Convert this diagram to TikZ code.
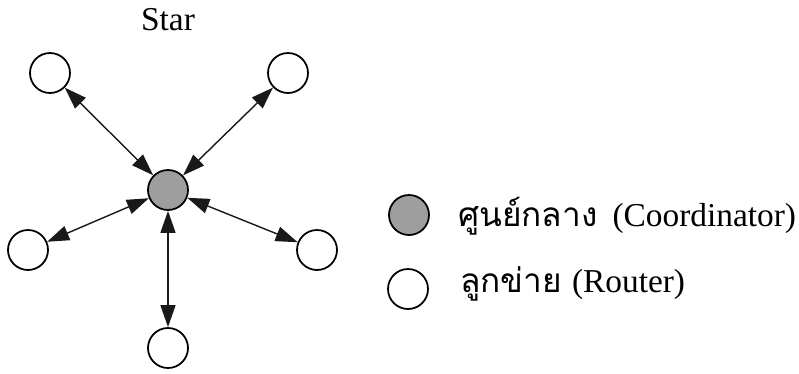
\documentclass[tikz,border=0pt]{standalone}
\usepackage{fontspec}
\setmainfont{Liberation Serif}
\newfontfamily\thaifont[Script=Thai]{Loma}
\usetikzlibrary{arrows.meta}

\begin{document}
\begin{tikzpicture}[
    x=0.02cm, y=-0.02cm,
    router/.style={circle, draw=black, line width=1pt, fill=white, minimum size=0.8cm, inner sep=0pt},
    coord/.style={router, fill=black!38},
    >={Triangle[length=0.44cm, width=0.3cm]},
    link/.style={<->, line width=0.8pt, draw=black!90},
    font=\fontsize{19}{23}\selectfont
]
    \useasboundingbox (0,0) rectangle (799,373);

    % title
    \node[anchor=base] (title) at (168,30) {Star};

    % star nodes (centre + 5 routers)
    \node[coord]  (ctr) at (168,190) {};  % centre
    \node[router] (tl)  at (50,73)   {};  % top left
    \node[router] (tr)  at (288,73)  {};  % top right
    \node[router] (ml)  at (28,250)  {};  % left
    \node[router] (mr)  at (317,250) {};  % right
    \node[router] (bm)  at (168,348) {};  % bottom

    % 1. links from centre to each router
    \draw[link] (ctr) -- (tl);
    \draw[link] (ctr) -- (tr);
    \draw[link] (ctr) -- (ml);
    \draw[link] (ctr) -- (mr);
    \draw[link] (ctr) -- (bm);

    % 2. legend
    \node[coord]  (keyC) at (409,215) {};
    \node[router] (keyR) at (408,289) {};
    \node[anchor=base west] (txtC) at (452,226) {{\thaifont ศูนย์กลาง}\hspace{0.2em} (Coordinator)};
    \node[anchor=base west] (txtR) at (454,292) {{\thaifont ลูกข่าย}\hspace{0.05em} (Router)};

\end{tikzpicture}
\end{document}
